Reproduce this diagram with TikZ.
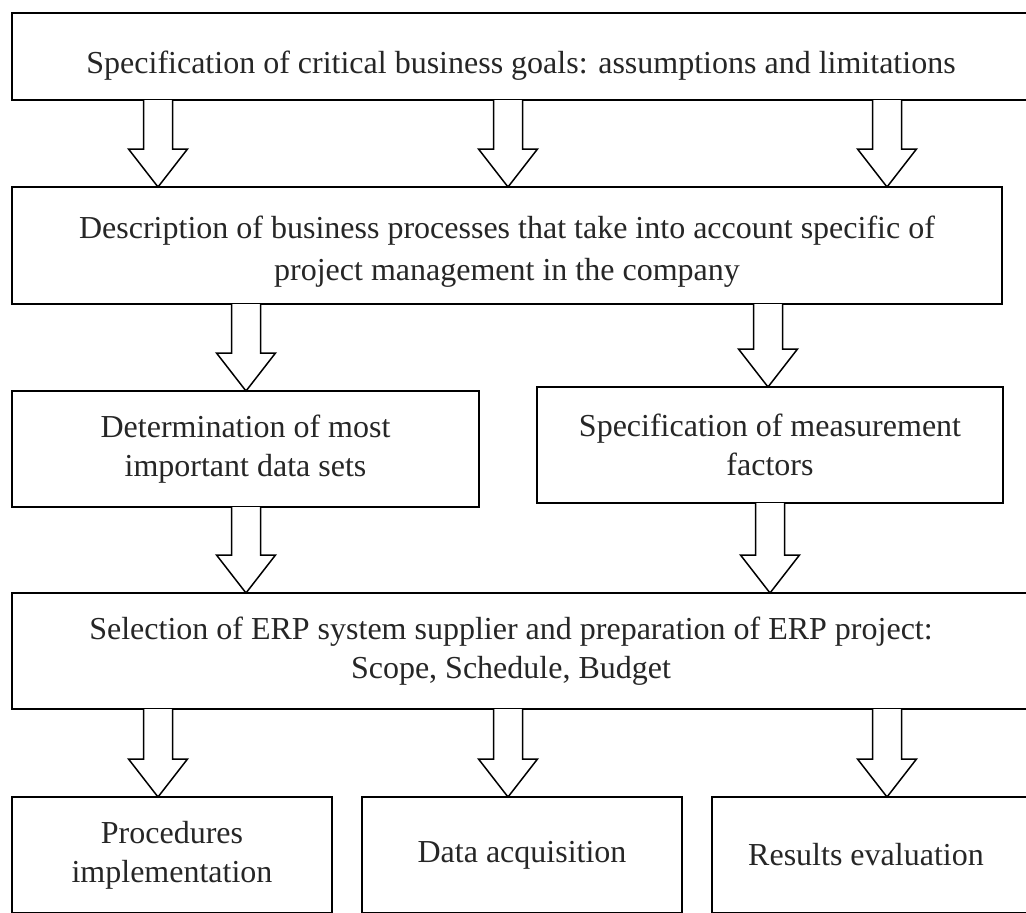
\documentclass[tikz,border=0pt]{standalone}
\usepackage{fontspec}
\setmainfont{Liberation Serif}
\usetikzlibrary{calc}
\tikzset{
  box/.style={draw=black, line width=1.6pt, fill=white, rectangle, outer sep=0pt, inner sep=0pt,
    anchor=north west, align=center, text=black!85,
    font=\fontsize{32}{39}\selectfont},
  blockarr/.style={draw=black, line width=1.5pt, fill=white, line join=miter}
}
\newcommand\barrow[3]{%
  \draw[blockarr] let \p1=(#2.south), \p2=(#3.north) in
    ({#1pt-14.5pt},{\y1}) -- ({#1pt-14.5pt},{\y2+38pt}) -- ({#1pt-29.5pt},{\y2+38pt})
    -- ({#1pt},{\y2}) -- ({#1pt+29.5pt},{\y2+38pt}) -- ({#1pt+14.5pt},{\y2+38pt})
    -- ({#1pt+14.5pt},{\y1});}
\begin{document}
\begin{tikzpicture}[x=1pt,y=-1pt]
\useasboundingbox (0,0) rectangle (1026,913);
\fill[white] (0,0) rectangle (1026,913);
\node[box, minimum width=1018pt, minimum height=87pt, text height=33pt, text depth=0pt] (b1) at (12,13)
  {Specification of critical business goals: assumptions and limitations};
\node[box, minimum width=990pt, minimum height=117pt] (b2) at (12,187)
  {\rule{0pt}{34pt}Description of business processes that take into account specific of\\[3pt]project management in the company};
\node[box, minimum width=467pt, minimum height=116pt] (b3) at (12,391)
  {Determination of most\\important data sets};
\node[box, minimum width=466pt, minimum height=116pt] (b4) at (537,387)
  {Specification of measurement\\factors};
\node[box, minimum width=1018pt, minimum height=116pt] (b5) at (12,593)
  {\hspace*{-20pt}Selection of ERP system supplier and preparation of ERP project:\\\hspace*{-20pt}Scope, Schedule, Budget};
\node[box, minimum width=320pt, minimum height=116pt] (b6) at (12,797)
  {Procedures\\implementation};
\node[box, minimum width=320pt, minimum height=116pt] (b7) at (362,797)
  {\raisebox{4pt}{Data acquisition}};
\node[box, minimum width=318pt, minimum height=116pt] (b8) at (712,797)
  {\hspace*{-10pt}Results evaluation};
\barrow{158}{b1}{b2}
\barrow{508}{b1}{b2}
\barrow{887}{b1}{b2}
\barrow{246}{b2}{b3}
\barrow{768}{b2}{b4}
\barrow{246}{b3}{b5}
\barrow{770}{b4}{b5}
\barrow{158}{b5}{b6}
\barrow{508}{b5}{b7}
\barrow{887}{b5}{b8}
\end{tikzpicture}
\end{document}
